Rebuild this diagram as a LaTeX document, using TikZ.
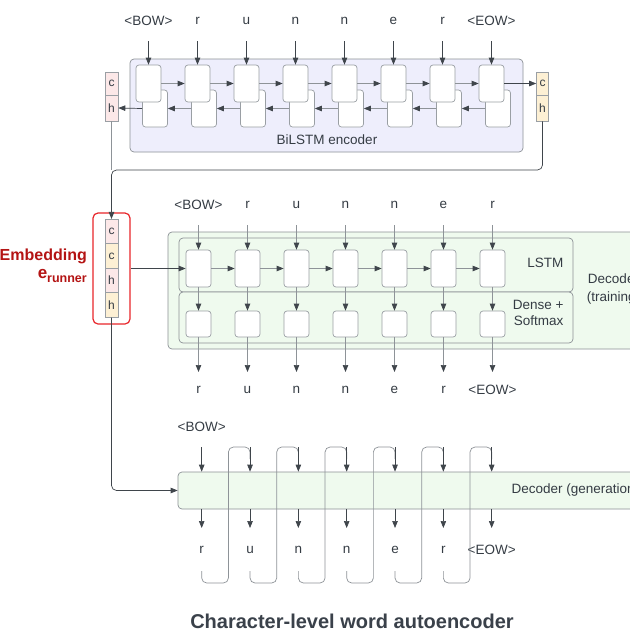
\documentclass[tikz,border=0pt]{standalone}
\usepackage{fontspec}
\setmainfont{Liberation Sans}
\usetikzlibrary{arrows.meta}
\definecolor{ln}{HTML}{3F454B}
\definecolor{gl}{HTML}{8E9398}
\definecolor{cellb}{HTML}{9A9FA4}
\definecolor{boxb}{HTML}{8C9196}
\definecolor{encf}{HTML}{EEEEFC}
\definecolor{decf}{HTML}{EFFAEE}
\definecolor{pinkf}{HTML}{FCE8E8}
\definecolor{yelf}{HTML}{FDF0D4}
\definecolor{txt}{HTML}{353C44}
\definecolor{embr}{HTML}{E8262B}
\definecolor{embt}{HTML}{B41414}
\definecolor{titc}{HTML}{3A414A}
\begin{document}
\begin{tikzpicture}[x=1pt,y=-1pt,
  every node/.style={text=txt, font=\fontsize{13.5}{16}\selectfont},
  cell/.style={draw=cellb, fill=white, rounded corners=3pt, minimum width=25pt, minimum height=37pt, inner sep=0pt, line width=0.7pt},
  dcell/.style={cell, minimum height=26pt},
  chbox/.style={draw=cellb, minimum width=13pt, inner sep=0pt, line width=0.6pt, font=\fontsize{12}{14}\selectfont},
  bigbox/.style={draw=boxb, rounded corners=4pt, inner sep=0pt, line width=0.7pt},
  arr/.style={draw=ln, line width=0.7pt, -{Triangle[length=7pt,width=5.5pt]}},
  garr/.style={draw=gl, line width=0.7pt, -{Triangle[length=7pt,width=5.5pt,color=ln]}},
  gline/.style={draw=gl, line width=0.7pt}
]
\useasboundingbox (0,0) rectangle (630,630);
\clip (0,0) rectangle (630,630);
\fill[white] (0,0) rectangle (630,630);

% ---------- BiLSTM encoder ----------
\node[bigbox, fill=encf, minimum width=393pt, minimum height=93pt] (enc) at (326.5,105.5) {};
\node (enclbl) at (327,140) {BiLSTM encoder};
\foreach \t [count=\i from 0] in {<BOW>,r,u,n,n,e,r,<EOW>} {
  \pgfmathsetmacro\xx{148.5+49*\i}
  \node[cell] (b\i) at (\xx+6.5,108.5) {};
  \node[cell] (f\i) at (\xx,83.5) {};
  \node (ei\i) at (\xx,21) {\t};
  \coordinate (es\i) at (\xx,41);
  \draw[arr] (es\i) -- (f\i.north);
}
\foreach \i in {0,...,6} {
  \pgfmathtruncatemacro\j{\i+1}
  \draw[garr] (f\i.east) -- (f\j.west);
  \draw[garr] (b\j.west) -- (b\i.east);
}
\node[chbox, fill=pinkf, minimum height=23pt] (lc) at (111.5,83.5) {c};
\node[chbox, fill=pinkf, minimum height=26pt] (lh) at (111.5,108) {h};
\node[chbox, fill=yelf, minimum height=23pt, minimum width=12pt] (rc) at (542.5,83.5) {c};
\node[chbox, fill=yelf, minimum height=26pt, minimum width=12pt] (rh) at (542.5,108) {h};
\draw[arr] (b0.west) -- (lh.east);
\draw[arr] (f7.east) -- (rc.west);

% ---------- Embedding ----------
\node[draw=embr, line width=1.2pt, rounded corners=5pt, minimum width=37pt, minimum height=111pt, inner sep=0pt] (emb) at (111.5,268.5) {};
\node[chbox, fill=pinkf, minimum height=24.5pt] (e1) at (111.5,231.5) {c};
\node[chbox, fill=yelf, minimum height=24.5pt] (e2) at (111.5,256) {c};
\node[chbox, fill=pinkf, minimum height=24.5pt] (e3) at (111.5,280.5) {h};
\node[chbox, fill=yelf, minimum height=24.5pt] (e4) at (111.5,305) {h};
\node[anchor=east, inner sep=0pt, text=embt, font=\bfseries\fontsize{16}{18}\selectfont] (embl1) at (87,256) {Embedding};
\node[anchor=east, inner sep=0pt, text=embt, font=\bfseries\fontsize{17}{18}\selectfont] (embl2) at (87,276) {e\raisebox{-3.5pt}{\fontsize{12.5}{14}\selectfont runner}};

\coordinate (j) at (111.5,170);
\draw[gline] (lh.south) -- (j);
\draw[arr, rounded corners=5pt] (rh.south) |- (j) -- (e1.north);

% ---------- Decoder (training) ----------
\node[bigbox, fill=decf, minimum width=532pt, minimum height=117pt] (dtr) at (434,290.5) {};
\node[bigbox, fill=decf, minimum width=394pt, minimum height=54pt] (lstmb) at (376,265) {};
\node[bigbox, fill=decf, minimum width=394pt, minimum height=51pt] (denseb) at (376,317.5) {};
\node[anchor=east] (lstml) at (567,263) {LSTM};
\node[anchor=east, align=right, font=\fontsize{13.5}{16}\selectfont] (densel) at (567,313) {Dense +\\Softmax};
\node[align=center, font=\fontsize{13.5}{18}\selectfont] (dtrl) at (613.5,289) {Decoder\\(training)};
\foreach \t [count=\i from 0] in {<BOW>,r,u,n,n,e,r} {
  \pgfmathsetmacro\xx{198.5+49*\i}
  \node[cell] (t\i) at (\xx,268.5) {};
  \node[dcell] (d\i) at (\xx,324) {};
  \node (ti\i) at (\xx,205) {\t};
  \coordinate (ts\i) at (\xx,225);
  \coordinate (te\i) at (\xx,372);
  \draw[garr] (ts\i) -- (t\i.north);
  \draw[garr] (t\i.south) -- (d\i.north);
  \draw[garr] (d\i.south) -- (te\i);
}
\foreach \t [count=\i from 0] in {r,u,n,n,e,r,<EOW>} {
  \pgfmathsetmacro\xx{198.5+49*\i}
  \node (to\i) at (\xx,390) {\t};
}
\foreach \i in {0,...,5} {
  \pgfmathtruncatemacro\j{\i+1}
  \draw[garr] (t\i.east) -- (t\j.west);
}
\draw[arr] (emb.east) -- (t0.west);

% ---------- Decoder (generation) ----------
\node[bigbox, fill=decf, minimum width=522pt, minimum height=37pt] (gen) at (439,490.5) {};
\node[anchor=west] (genl) at (508,490) {Decoder (generation)};
\node (gi0) at (201.7,427) {<BOW>};
\foreach \t [count=\i from 0] in {r,u,n,n,e,r,<EOW>} {
  \pgfmathsetmacro\xx{201.7+48.33*\i}
  \coordinate (ga\i) at (\xx,447);
  \coordinate (gb\i) at (\xx,528);
  \coordinate (gl\i) at (\xx,571);
  \coordinate (gm\i) at (\xx+26.7,583);
  \node (go\i) at (\xx,550) {\t};
}
\foreach \i in {0,...,5} {
  \pgfmathtruncatemacro\j{\i+1}
  \draw[gline, rounded corners=5pt] (gl\i) |- (gm\i) |- (ga\j) -- ++(0,12);
}
\foreach \i in {0,...,6} {
  \draw[arr] (ga\i) -- (ga\i |- gen.north);
  \draw[arr] (ga\i |- gen.south) -- (gb\i);
}
\draw[arr, rounded corners=5pt] (e4.south) |- (gen.west);

% ---------- Title ----------
\node[text=titc, font=\bfseries\fontsize{20}{24}\selectfont] (title) at (352,621) {Character-level word autoencoder};
\end{tikzpicture}
\end{document}
